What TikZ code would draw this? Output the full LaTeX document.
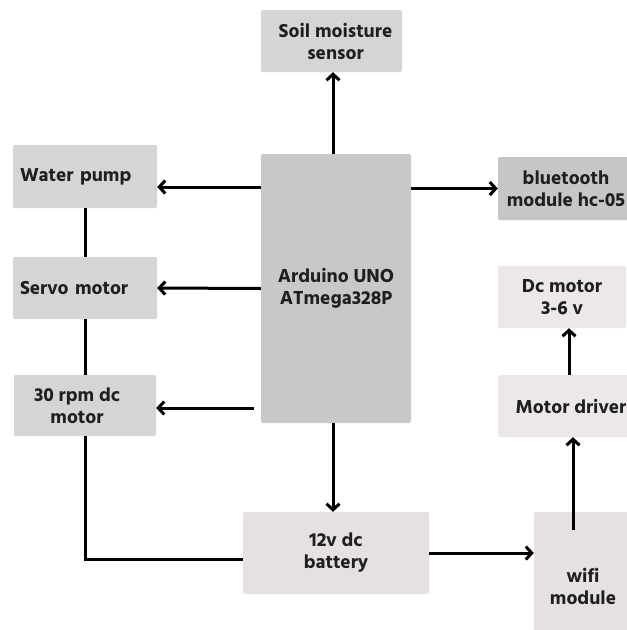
\documentclass[tikz,border=0pt]{standalone}
\usepackage{fontspec}
\setmainfont{Hind Siliguri}[BoldFont={Hind Siliguri Bold}]
\usetikzlibrary{arrows.meta}

\definecolor{sidegray}{HTML}{D6D4D4}
\definecolor{unogray}{HTML}{C8C8C8}
\definecolor{btgray}{HTML}{C7C6C6}
\definecolor{drvgray}{HTML}{ECE8E8}
\definecolor{batgray}{HTML}{E6E1E1}

\begin{document}
\begin{tikzpicture}[x=1pt, y=-1pt,
    every node/.style={font=\bfseries\fontsize{19.3}{22}\selectfont, text=black!88},
    box/.style={rounded corners=2pt, align=center, inner sep=0pt},
    leftbox/.style={box, align=left, inner xsep=7pt, text width=130pt},
    wire/.style={line width=3pt},
    arr/.style={wire, -{Straight Barb[length=6pt, width=13pt, line width=3pt]}}]
    \useasboundingbox[fill=white] (0,0) rectangle (627,630);

% controller
    \node[box, fill=unogray, minimum width=150pt, minimum height=269pt] (uno) at (336,288.5) {Arduino UNO\\ATmega328P};

% top and left side
    \node[box, fill=sidegray, minimum width=141pt, minimum height=62pt] (soil) at (331.5,41) {\hspace*{8pt}Soil moisture\\\hspace*{8pt}sensor};
    \node[leftbox, fill=sidegray, minimum height=63pt] (pump) at (85,176.5) {Water pump};
    \node[leftbox, fill=sidegray, minimum height=62pt] (servo) at (85,288) {Servo motor};
    \node[box, fill=sidegray, minimum width=142pt, minimum height=61pt] (rpm) at (85,405.5) {30 rpm dc\hspace*{16pt}\\motor\hspace*{16pt}};

% right side
    \node[box, fill=btgray, minimum width=136pt, minimum height=63pt] (bt) at (566,188.5) {bluetooth\\module hc-05};
    \node[box, fill=drvgray, minimum width=128pt, minimum height=62pt] (dcm) at (562,297) {Dc motor\\3-6 v};
    \node[box, fill=drvgray, minimum width=146pt, minimum height=62pt] (drv) at (571,406) {Motor driver};

% supply
    \node[box, fill=batgray, minimum width=186pt, minimum height=82pt] (bat) at (336,553) {12v dc\\battery};
    \node[box, fill=batgray, minimum width=98pt, minimum height=148pt] (wifi) at (583,586) {wifi\\module};

    \coordinate (p1) at (261,187);
    \coordinate (p3) at (254,408);
    \coordinate (w1) at (573,530);

% arrows from the controller
    \draw[arr] ([xshift=-3pt]uno.north) -- ([xshift=-3pt]uno.north |- soil.south);
    \draw[arr] (p1) -- (p1 -| pump.east);
    \draw[arr] (uno.west) -- (servo.east);
    \draw[arr] (p3) -- (p3 -| rpm.east);
    \draw[arr] (uno.east |- bt.west) -- (bt.west);
    \draw[arr] ([xshift=-3pt]uno.south) -- ([xshift=-3pt]uno.south |- bat.north);

% power side
    \draw[arr] (bat.east) -- (bat.east -| wifi.west);
    \draw[arr] (w1) -- (w1 |- drv.south);
    \draw[arr] ([xshift=-2pt]drv.north) -- ([xshift=-2pt]drv.north |- dcm.south);

% left chain
    \draw[wire] (pump.south) -- (servo.north);
    \draw[wire] (servo.south) -- (rpm.north);
    \draw[wire] (rpm.south) |- ([yshift=-6pt]bat.west);

\end{tikzpicture}
\end{document}
